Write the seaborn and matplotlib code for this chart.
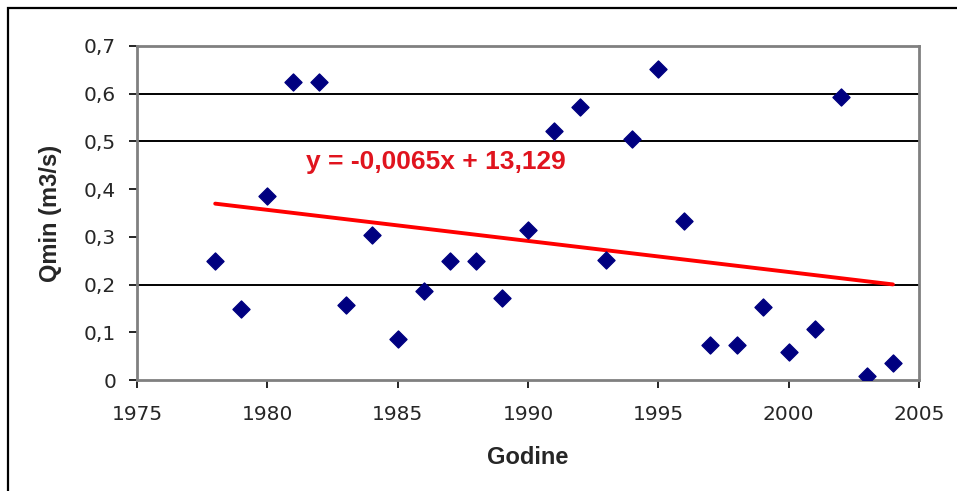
import matplotlib
matplotlib.use("Agg")
import matplotlib.pyplot as plt
import seaborn as sns
import pandas as pd
from matplotlib.patches import Rectangle
from matplotlib.ticker import FuncFormatter

# godine i Qmin (m3/s), ocitano sa slike
godine = [1978, 1979, 1980, 1981, 1982, 1983, 1984, 1985, 1986, 1987,
          1988, 1989, 1990, 1991, 1992, 1993, 1994, 1995, 1996, 1997,
          1998, 1999, 2000, 2001, 2002, 2003, 2004]
qmin = [0.250, 0.149, 0.386, 0.625, 0.625, 0.157, 0.304, 0.086, 0.187, 0.250,
        0.250, 0.172, 0.314, 0.522, 0.572, 0.252, 0.505, 0.652, 0.333, 0.073,
        0.073, 0.153, 0.059, 0.107, 0.594, 0.008, 0.036]
jednadzba = "y = -0,0065x + 13,129"

df = pd.DataFrame({"Godine": godine, "Qmin": qmin})

sns.set_style("white")
plt.rcParams["font.family"] = ["Liberation Sans", "DejaVu Sans"]

fig = plt.figure(figsize=(9.57, 4.91), dpi=100)
ax = fig.add_axes([137 / 957, 1 - 380 / 491, (919 - 137) / 957, (380 - 46) / 491])

# okvir oko cijelog grafikona
fig.patches.append(Rectangle((8 / 957, -0.1), 1.2, 1 - 8 / 491 + 0.1,
                             transform=fig.transFigure, fill=False,
                             edgecolor="black", linewidth=1.6))

for g in [0.2, 0.5, 0.6]:
    ax.axhline(g, color="black", linewidth=1.4, zorder=1)

sns.regplot(data=df, x="Godine", y="Qmin", ci=None, ax=ax, marker="D",
            scatter_kws={"s": 75, "color": "#000080", "alpha": 1,
                         "edgecolors": "#000080", "zorder": 3},
            line_kws={"color": "#ff0000", "linewidth": 2.8, "zorder": 2})

ax.text(1981.5, 0.457, jednadzba, color="#e0141e", fontsize=19,
        fontweight="bold", ha="left", va="center")

ax.set_xlim(1975, 2005)
ax.set_ylim(0, 0.7)
ax.set_xticks(range(1975, 2006, 5))
ax.set_yticks([0, 0.1, 0.2, 0.3, 0.4, 0.5, 0.6, 0.7])
ax.yaxis.set_major_formatter(FuncFormatter(
    lambda v, p: "0" if v == 0 else f"{v:.1f}".replace(".", ",")))
ax.tick_params(axis="both", direction="out", length=6, width=1.2,
               color="black", labelsize=14.5, left=True, bottom=True)
ax.tick_params(axis="x", pad=12)
ax.tick_params(axis="y", pad=9)
for lbl in ax.get_xticklabels() + ax.get_yticklabels():
    lbl.set_family("DejaVu Sans")

for s in ax.spines.values():
    s.set_color("#808080")
    s.set_linewidth(2)

ax.set_xlabel("Godine", fontsize=17, fontweight="bold")
ax.set_ylabel("Qmin (m3/s)", fontsize=17, fontweight="bold")
ax.xaxis.set_label_coords(0.5, (380 - 457) / 334)
ax.xaxis.label.set_va("center")
ax.yaxis.set_label_coords((50 - 137) / 782, 0.5)
ax.yaxis.label.set_va("center")

fig.savefig("out.png", dpi=100)
